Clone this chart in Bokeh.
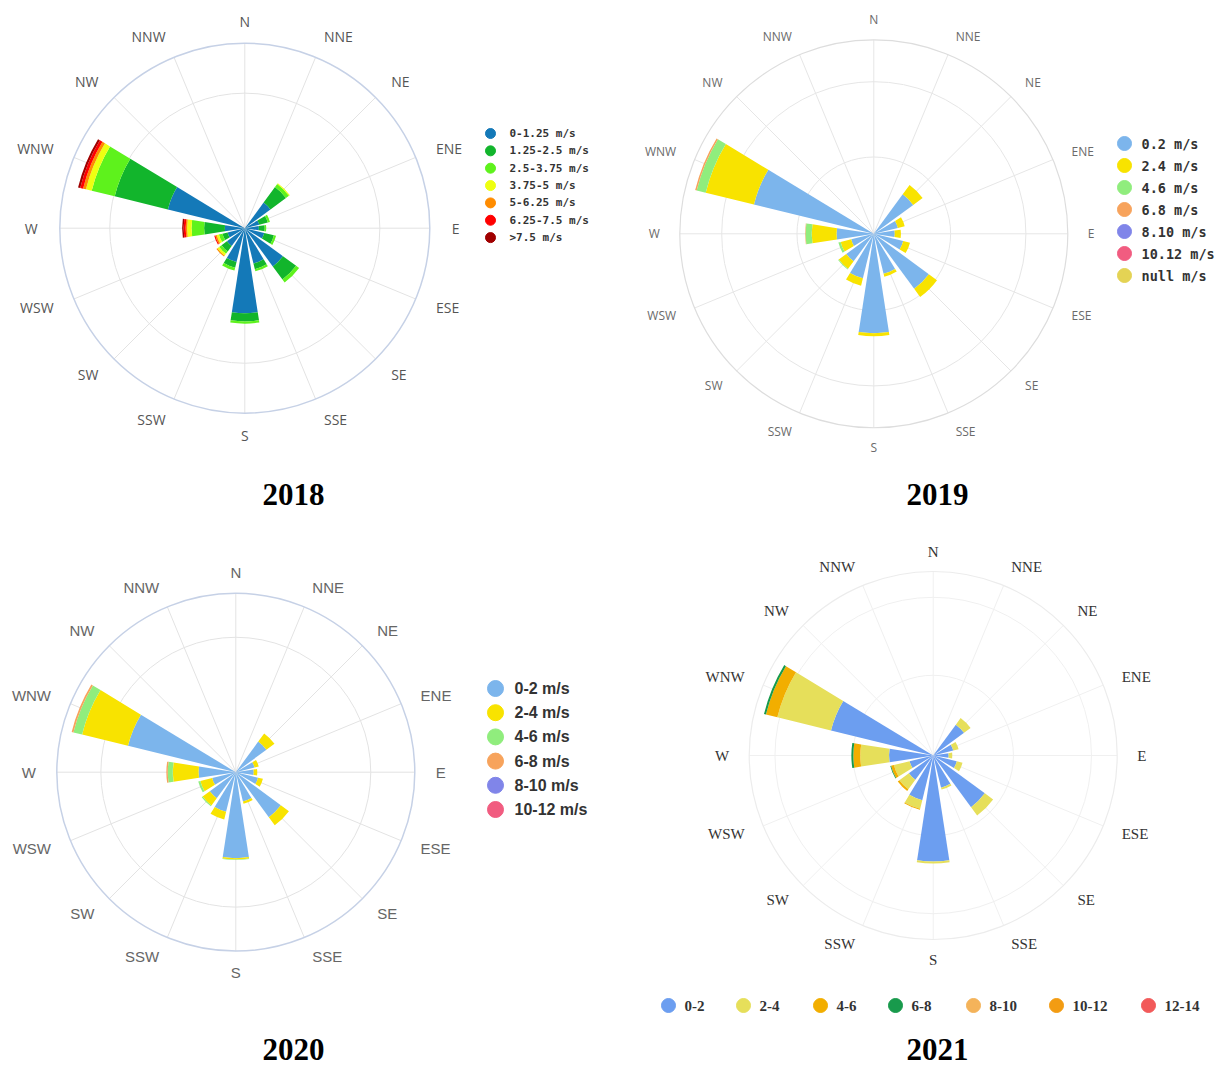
import math
from bokeh.plotting import figure
from bokeh.layouts import gridplot
from bokeh.models import Range1d, ColumnDataSource
from bokeh.core.properties import value
from bokeh.embed import file_html
from bokeh.resources import INLINE

directions = ["N", "NNE", "NE", "ENE", "E", "ESE", "SE", "SSE",
              "S", "SSW", "SW", "WSW", "W", "WNW", "NW", "NNW"]

# ---------------- 2018 (frequency %, stacked by speed class) ----------------
labels_2018 = ["0-1.25 m/s", "1.25-2.5 m/s", "2.5-3.75 m/s", "3.75-5 m/s",
               "5-6.25 m/s", "6.25-7.5 m/s", ">7.5 m/s"]
colors_2018 = ["#1479b8", "#12b52c", "#5ef21c", "#eeff11", "#ff8c00", "#ff0000", "#a00000"]
f2018_s1 = [0, 0, 4.3, 2.0, 1.9, 2.7, 6.4, 4.9, 11.5, 4.7, 3.0, 2.4, 2.7, 10.7, 0, 0]
f2018_s2 = [0, 0, 2.6, 1.2, 0.8, 1.35, 2.2, 0.8, 1.1, 0.8, 0.9, 0.7, 2.8, 7.4, 0, 0]
f2018_s3 = [0, 0, 0.5, 0.3, 0.2, 0.3, 0.5, 0.3, 0.3, 0.4, 0.4, 0.5, 1.7, 3.2, 0, 0]
f2018_s4 = [0, 0, 0.15, 0, 0, 0, 0, 0, 0, 0, 0.3, 0.3, 0.6, 0.8, 0, 0]
f2018_s5 = [0, 0, 0, 0, 0, 0, 0, 0, 0, 0, 0.15, 0.2, 0.2, 0.4, 0, 0]
f2018_s6 = [0, 0, 0, 0, 0, 0, 0, 0, 0, 0, 0, 0.15, 0.27, 0.4, 0, 0]
f2018_s7 = [0, 0, 0, 0, 0, 0, 0, 0, 0, 0, 0, 0, 0.2, 0.3, 0, 0]
rings_2018 = [18.25]

# ---------------- 2019 ----------------
labels_2019 = ["0.2 m/s", "2.4 m/s", "4.6 m/s", "6.8 m/s", "8.10 m/s", "10.12 m/s", "null m/s"]
colors_2019 = ["#7cb5ec", "#f8e300", "#90ed7d", "#f7a35c", "#8085e9", "#f15c80", "#e4d354"]
f2019_s1 = [0, 0, 6.3, 3.2, 2.7, 3.9, 8.8, 5.3, 12.8, 5.9, 4.4, 3.0, 4.8, 15.9, 0, 0]
f2019_s2 = [0, 0, 1.5, 0.9, 0.8, 0.9, 1.3, 0.4, 0.4, 1.0, 1.2, 1.4, 3.2, 6.4, 0, 0]
f2019_s3 = [0, 0, 0, 0, 0, 0, 0, 0, 0, 0, 0.1, 0.3, 0.8, 1.2, 0, 0]
f2019_s4 = [0, 0, 0, 0, 0, 0, 0, 0, 0, 0, 0, 0, 0.06, 0.2, 0, 0]
f2019_s5 = [0] * 16
f2019_s6 = [0] * 16
f2019_s7 = [0] * 16
rings_2019 = [9.9, 19.6]

# ---------------- 2020 ----------------
labels_2020 = ["0-2 m/s", "2-4 m/s", "4-6 m/s", "6-8 m/s", "8-10 m/s", "10-12 m/s"]
colors_2020 = ["#7cb5ec", "#f8e300", "#90ed7d", "#f7a35c", "#8085e9", "#f15c80"]
f2020_s1 = [0, 0, 5.3, 2.7, 2.5, 3.2, 7.8, 4.2, 12.0, 5.7, 4.5, 3.4, 5.2, 15.5, 0, 0]
f2020_s2 = [0, 0, 1.4, 0.6, 0.5, 0.7, 1.4, 0.35, 0.2, 1.1, 1.25, 1.7, 3.6, 6.6, 0, 0]
f2020_s3 = [0, 0, 0, 0, 0, 0, 0, 0, 0.07, 0, 0.15, 0.3, 0.7, 1.25, 0, 0]
f2020_s4 = [0, 0, 0, 0, 0, 0, 0, 0, 0, 0, 0, 0, 0.2, 0.25, 0, 0]
f2020_s5 = [0] * 16
f2020_s6 = [0] * 16
rings_2020 = [18.85]

# ---------------- 2021 ----------------
labels_2021 = ["0-2", "2-4", "4-6", "6-8", "8-10", "10-12", "12-14"]
colors_2021 = ["#6c9ef0", "#e6df5a", "#f2ae00", "#189a4c", "#f4b35a", "#f39c12", "#f25a5a"]
f2021_s1 = [0, 0, 5.2, 2.8, 2.1, 3.3, 8.7, 4.5, 14.4, 6.25, 4.1, 3.3, 6.0, 14.3, 0, 0]
f2021_s2 = [0, 0, 1.1, 0.75, 0.5, 0.8, 1.4, 0.27, 0.27, 1.2, 1.6, 2.2, 3.9, 7.5, 0, 0]
f2021_s3 = [0, 0, 0, 0, 0, 0, 0, 0, 0, 0.14, 0.27, 0.4, 0.95, 1.6, 0, 0]
f2021_s4 = [0, 0, 0, 0, 0, 0, 0, 0, 0, 0, 0, 0.1, 0.27, 0.27, 0, 0]
f2021_s5 = [0] * 16
f2021_s6 = [0] * 16
f2021_s7 = [0] * 16
rings_2021 = [10.9, 21.5]

RMAX = 25.0  # value at the outer circle
BAR_WIDTH_DEG = 17.5


def rose(cfg):
    W, H = cfg["w"], cfg["h"]
    ox, oy = cfg["origin"]
    pcx, pcy = cfg["center"]
    cx, cy = pcx - ox, pcy - oy
    k = cfg["r_px"] / RMAX

    def to_data(px, py):
        return ((px - ox - cx) / k, (cy - (py - oy)) / k)

    p = figure(width=W, height=H,
               x_range=Range1d(-cx / k, (W - cx) / k),
               y_range=Range1d(-(H - cy) / k, cy / k),
               x_axis_type=None, y_axis_type=None,
               toolbar_location=None, output_backend="svg",
               min_border=0, outline_line_color=None,
               background_fill_color="white", border_fill_color="white")

    n = len(directions)
    bear = [i * 2 * math.pi / n for i in range(n)]

    # spokes
    p.segment(x0=[0] * n, y0=[0] * n,
              x1=[RMAX * math.sin(b) for b in bear],
              y1=[RMAX * math.cos(b) for b in bear],
              line_color=cfg["spoke_color"], line_width=1)
    # rings
    for rv in cfg["rings"]:
        p.circle(x=0, y=0, radius=rv, fill_color=None,
                 line_color=cfg["ring_color"], line_width=1)
    p.circle(x=0, y=0, radius=RMAX, fill_color=None,
             line_color=cfg["outer_color"], line_width=cfg.get("outer_width", 1.2))

    # stacked bars
    hw = math.radians(BAR_WIDTH_DEG) / 2
    cum = [0.0] * n
    for series, color in zip(cfg["series"], cfg["colors"]):
        d = dict(inner=[], outer=[], start=[], end=[])
        for i, v in enumerate(series):
            if v > 0:
                a = math.pi / 2 - bear[i]
                d["inner"].append(cum[i])
                d["outer"].append(cum[i] + v)
                d["start"].append(a - hw)
                d["end"].append(a + hw)
            cum[i] += v
        if d["inner"]:
            p.annular_wedge(x=0, y=0, inner_radius="inner", outer_radius="outer",
                            start_angle="start", end_angle="end",
                            source=ColumnDataSource(d),
                            fill_color=color, line_color=None)

    # direction labels
    rl = (cfg["r_px"] + cfg["label_gap"]) / k
    lx, ly, al = [], [], []
    for b in bear:
        s = math.sin(b)
        lx.append(rl * s)
        ly.append(rl * math.cos(b))
        al.append("center" if abs(s) < 0.05 else ("left" if s > 0 else "right"))
    p.text(x="x", y="y", text="t", text_align="a",
           source=ColumnDataSource(dict(x=lx, y=ly, t=directions, a=al)),
           text_baseline="middle", text_font=value(cfg["label_font"]),
           text_font_size=value(cfg["label_size"]), text_color=cfg["label_color"])

    # legend (manual, circles + labels)
    lg = cfg["legend"]
    mx, my, tx, ty = [], [], [], []
    for j in range(len(cfg["labels"])):
        if lg["horizontal"]:
            px = lg["xs"][j]
            py = lg["y0"]
        else:
            px = lg["x"]
            py = lg["y0"] + j * lg["dy"]
        a1 = to_data(px, py)
        a2 = to_data(px + lg["tdx"], py)
        mx.append(a1[0]); my.append(a1[1]); tx.append(a2[0]); ty.append(a2[1])
    p.scatter(x=mx, y=my, size=lg["size"], color=cfg["colors"][:len(mx)], marker="circle")
    p.text(x=tx, y=ty, text=cfg["labels"], text_baseline="middle", text_align="left",
           text_font=value(lg["font"]), text_font_size=value(lg["font_size"]),
           text_font_style="bold", text_color="#333333")

    # year title under the rose
    tpx, tpy = cfg["title_pos"]
    t = to_data(tpx, tpy)
    p.text(x=[t[0]], y=[t[1]], text=[cfg["title"]], text_align="center",
           text_baseline="middle", text_font=value("Liberation Serif"),
           text_font_size=value("31px"), text_font_style="bold", text_color="black")
    return p


cfg2018 = dict(w=620, h=530, origin=(0, 0), center=(244.3, 227.7), r_px=185,
               rings=rings_2018, spoke_color="#e3e3e3", ring_color="#e3e3e3",
               outer_color="#c6d1e6", outer_width=1.5,
               series=[f2018_s1, f2018_s2, f2018_s3, f2018_s4, f2018_s5, f2018_s6, f2018_s7],
               colors=colors_2018, labels=labels_2018,
               label_gap=22, label_font="Open Sans", label_size="14px", label_color="#555555",
               legend=dict(horizontal=False, x=490, y0=133, dy=17.35, tdx=19, size=10,
                           font="DejaVu Sans Mono", font_size="11px"),
               title="2018", title_pos=(293, 494))

cfg2019 = dict(w=601, h=530, origin=(620, 0), center=(873.3, 233.3), r_px=194,
               rings=rings_2019, spoke_color="#e6e6e6", ring_color="#e6e6e6",
               outer_color="#dddddd", outer_width=1.2,
               series=[f2019_s1, f2019_s2, f2019_s3, f2019_s4, f2019_s5, f2019_s6, f2019_s7],
               colors=colors_2019, labels=labels_2019,
               label_gap=20, label_font="Open Sans", label_size="12px", label_color="#6a6a6a",
               legend=dict(horizontal=False, x=1124, y0=143, dy=22, tdx=17, size=14,
                           font="DejaVu Sans Mono", font_size="13.5px"),
               title="2019", title_pos=(937, 494))

cfg2020 = dict(w=620, h=538, origin=(0, 530), center=(235.3, 771.7), r_px=179,
               rings=rings_2020, spoke_color="#e3e3e3", ring_color="#e3e3e3",
               outer_color="#c6d1e6", outer_width=1.5,
               series=[f2020_s1, f2020_s2, f2020_s3, f2020_s4, f2020_s5, f2020_s6],
               colors=colors_2020, labels=labels_2020,
               label_gap=21, label_font="Liberation Sans", label_size="15px", label_color="#666666",
               legend=dict(horizontal=False, x=495, y0=688, dy=24.2, tdx=19, size=16,
                           font="Liberation Sans", font_size="16px"),
               title="2020", title_pos=(293, 1049))

cfg2021 = dict(w=601, h=538, origin=(620, 530), center=(932.7, 755), r_px=184,
               rings=rings_2021, spoke_color="#f0f0f0", ring_color="#f0f0f0",
               outer_color="#ececec", outer_width=1.2,
               series=[f2021_s1, f2021_s2, f2021_s3, f2021_s4, f2021_s5, f2021_s6, f2021_s7],
               colors=colors_2021, labels=labels_2021,
               label_gap=20, label_font="Liberation Serif", label_size="15px", label_color="#333333",
               legend=dict(horizontal=True, xs=[668, 743, 820, 895, 973, 1056, 1148], y0=1005,
                           tdx=16, size=14, font="Liberation Serif", font_size="15px"),
               title="2021", title_pos=(937, 1049))

grid = gridplot([[rose(cfg2018), rose(cfg2019)], [rose(cfg2020), rose(cfg2021)]],
                toolbar_location=None)

open("out.html", "w").write(file_html(grid, INLINE))
